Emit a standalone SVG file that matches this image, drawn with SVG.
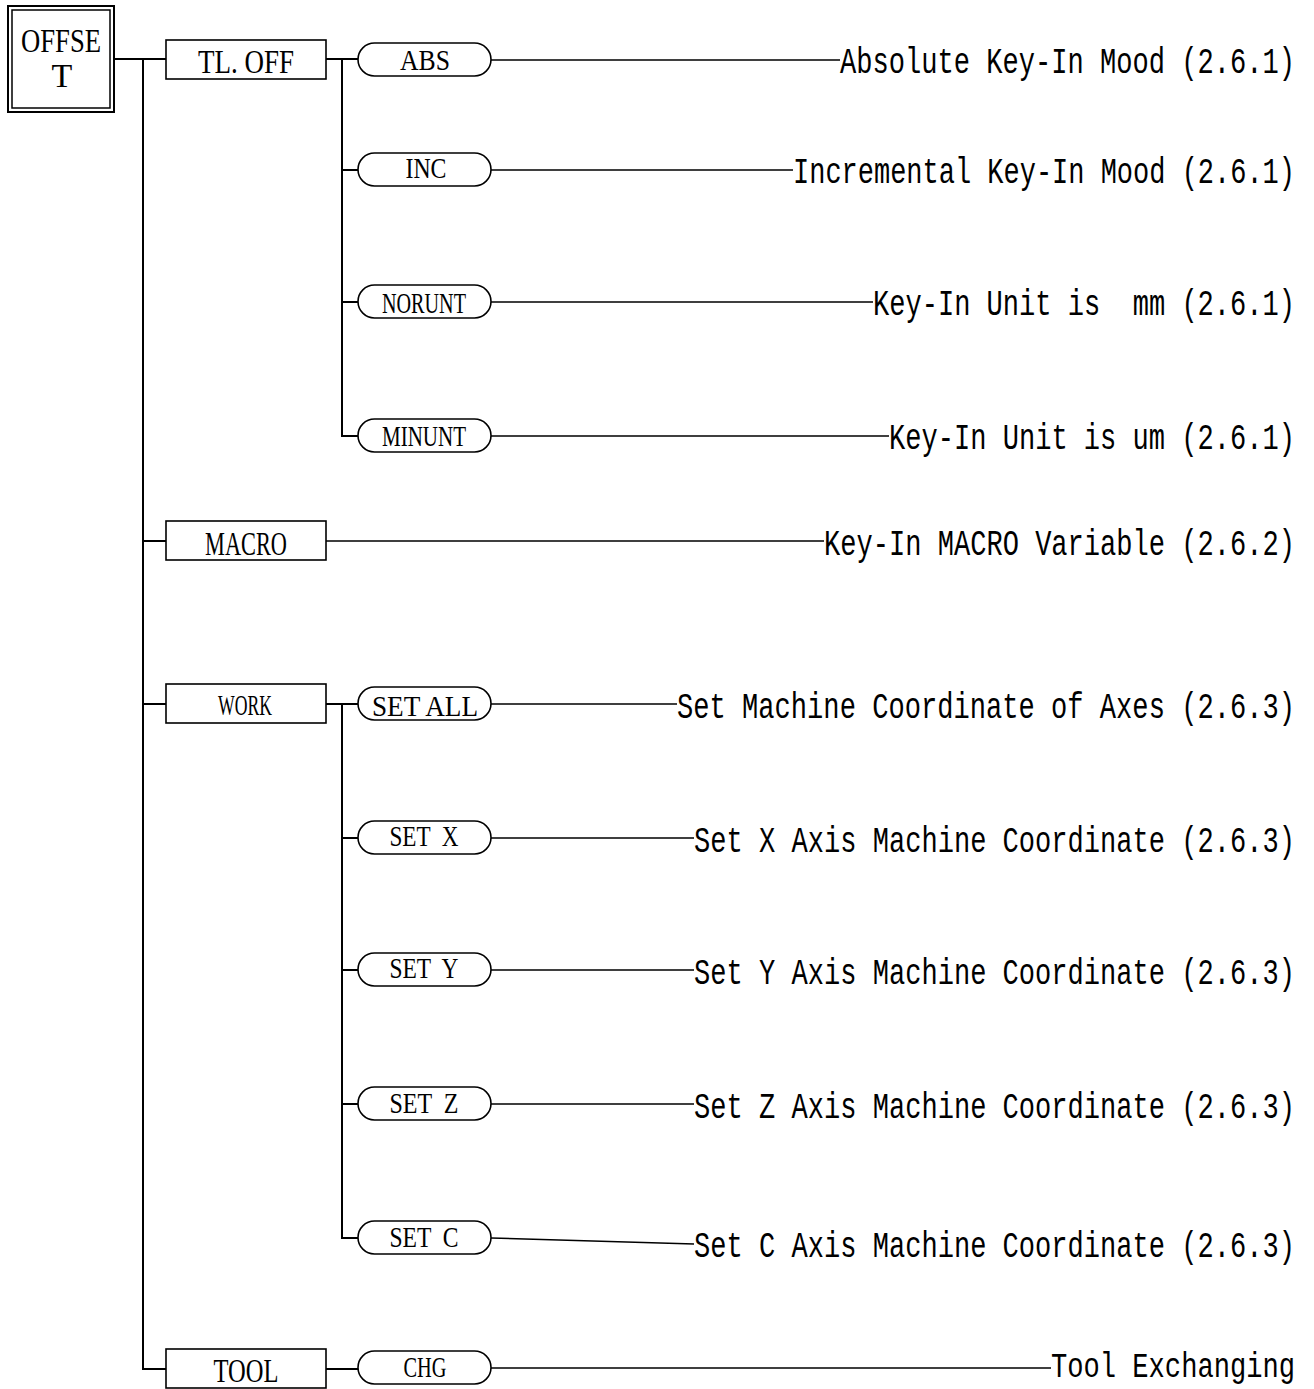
<svg xmlns="http://www.w3.org/2000/svg" width="1314" height="1389" viewBox="0 0 1314 1389">
<style>
.bg{fill:#fff}
.box{fill:#fff;stroke:#000;stroke-width:1.6}
.pill{fill:#fff;stroke:#000;stroke-width:1.6}
.c{fill:none;stroke:#000;stroke-width:2}
.l{fill:none;stroke:#000;stroke-width:1.5}
.t{font-family:"Liberation Mono",monospace;font-size:27px;fill:#000}
.n{font-family:"Liberation Serif",serif;font-size:34px;fill:#000;text-anchor:middle}
.p{font-family:"Liberation Serif",serif;font-size:30px;fill:#000;text-anchor:middle}
</style>
<rect class="bg" width="1314" height="1389"/>
<g id="connectors">
<path class="c" d="M114,59 H166 M143,59 V1369 H166 M143,541 H166 M143,704 H166"/>
<path class="c" d="M326,59 H358 M342,59 V436 H358 M342,170 H358 M342,302 H358"/>
<path class="c" d="M326,704 H358 M342,704 V1238 H358 M342,838 H358 M342,970 H358 M342,1104 H358"/>
<path class="c" d="M326,1369 H358"/>
<path class="l" d="M491,60 H840 M491,170 H793 M491,302 H873 M491,436 H889 M326,541 H824 M491,704 H677 M491,838 H694 M491,970 H694 M491,1104 H694 M491,1238 L694,1244 M491,1368 H1051"/>
</g>
<g id="offset">
<rect x="8" y="6" width="106" height="106" fill="#fff" stroke="#000" stroke-width="2"/>
<rect x="12" y="10" width="98" height="98" fill="none" stroke="#000" stroke-width="1.5"/>
<text class="n" x="61" y="52" font-size="27" textLength="80" lengthAdjust="spacingAndGlyphs">OFFSE</text>
<text class="n" x="62" y="87" font-size="27">T</text>
</g>
<g id="tloff"><rect class="box" x="166" y="40" width="160" height="39"/><text class="n" x="246" y="73" textLength="96" lengthAdjust="spacingAndGlyphs">TL. OFF</text></g>
<g id="macro"><rect class="box" x="166" y="521" width="160" height="39"/><text class="n" x="246" y="555" textLength="82" lengthAdjust="spacingAndGlyphs">MACRO</text></g>
<g id="work"><rect class="box" x="166" y="684" width="160" height="39"/><text class="p" x="245" y="715" font-size="26" textLength="54" lengthAdjust="spacingAndGlyphs">WORK</text></g>
<g id="tool"><rect class="box" x="166" y="1349" width="160" height="39"/><text class="n" x="246" y="1382" textLength="65" lengthAdjust="spacingAndGlyphs">TOOL</text></g>
<g id="abs"><rect class="pill" x="358" y="43" width="133" height="33" rx="16.5"/><text class="p" x="425" y="70" textLength="50" lengthAdjust="spacingAndGlyphs">ABS</text></g>
<g id="inc"><rect class="pill" x="358" y="153" width="133" height="33" rx="16.5"/><text class="p" x="426" y="178" textLength="41" lengthAdjust="spacingAndGlyphs">INC</text></g>
<g id="norunt"><rect class="pill" x="358" y="285" width="133" height="33" rx="16.5"/><text class="p" x="424" y="313" textLength="84" lengthAdjust="spacingAndGlyphs">NORUNT</text></g>
<g id="minunt"><rect class="pill" x="358" y="419" width="133" height="33" rx="16.5"/><text class="p" x="424" y="446" textLength="84" lengthAdjust="spacingAndGlyphs">MINUNT</text></g>
<g id="setall"><rect class="pill" x="358" y="687" width="133" height="33" rx="16.5"/><text class="p" x="425" y="716" textLength="106" lengthAdjust="spacingAndGlyphs">SET ALL</text></g>
<g id="setx"><rect class="pill" x="358" y="821" width="133" height="33" rx="16.5"/><text class="p" x="424" y="846" textLength="69" lengthAdjust="spacingAndGlyphs" xml:space="preserve">SET  X</text></g>
<g id="sety"><rect class="pill" x="358" y="953" width="133" height="33" rx="16.5"/><text class="p" x="424" y="978" textLength="69" lengthAdjust="spacingAndGlyphs" xml:space="preserve">SET  Y</text></g>
<g id="setz"><rect class="pill" x="358" y="1087" width="133" height="33" rx="16.5"/><text class="p" x="424" y="1113" textLength="69" lengthAdjust="spacingAndGlyphs" xml:space="preserve">SET  Z</text></g>
<g id="setc"><rect class="pill" x="358" y="1221" width="133" height="33" rx="16.5"/><text class="p" x="424" y="1247" textLength="69" lengthAdjust="spacingAndGlyphs" xml:space="preserve">SET  C</text></g>
<g id="chg"><rect class="pill" x="358" y="1351" width="133" height="33" rx="16.5"/><text class="p" x="425" y="1377" textLength="43" lengthAdjust="spacingAndGlyphs">CHG</text></g>
<g id="labels">
<text class="t" transform="translate(840,73) scale(1,1.38)" textLength="455" lengthAdjust="spacingAndGlyphs">Absolute Key-In Mood (2.6.1)</text>
<text class="t" transform="translate(793,183) scale(1,1.38)" textLength="502" lengthAdjust="spacingAndGlyphs">Incremental Key-In Mood (2.6.1)</text>
<text class="t" transform="translate(873,315) scale(1,1.38)" textLength="422" lengthAdjust="spacingAndGlyphs" xml:space="preserve">Key-In Unit is  mm (2.6.1)</text>
<text class="t" transform="translate(889,449) scale(1,1.38)" textLength="406" lengthAdjust="spacingAndGlyphs">Key-In Unit is um (2.6.1)</text>
<text class="t" transform="translate(824,555) scale(1,1.38)" textLength="471" lengthAdjust="spacingAndGlyphs">Key-In MACRO Variable (2.6.2)</text>
<text class="t" transform="translate(677,718) scale(1,1.38)" textLength="618" lengthAdjust="spacingAndGlyphs">Set Machine Coordinate of Axes (2.6.3)</text>
<text class="t" transform="translate(694,852) scale(1,1.38)" textLength="601" lengthAdjust="spacingAndGlyphs">Set X Axis Machine Coordinate (2.6.3)</text>
<text class="t" transform="translate(694,984) scale(1,1.38)" textLength="601" lengthAdjust="spacingAndGlyphs">Set Y Axis Machine Coordinate (2.6.3)</text>
<text class="t" transform="translate(694,1118) scale(1,1.38)" textLength="601" lengthAdjust="spacingAndGlyphs">Set Z Axis Machine Coordinate (2.6.3)</text>
<text class="t" transform="translate(694,1257) scale(1,1.38)" textLength="601" lengthAdjust="spacingAndGlyphs">Set C Axis Machine Coordinate (2.6.3)</text>
<text class="t" transform="translate(1051,1377) scale(1,1.3)" textLength="244" lengthAdjust="spacingAndGlyphs">Tool Exchanging</text>
</g>
</svg>
